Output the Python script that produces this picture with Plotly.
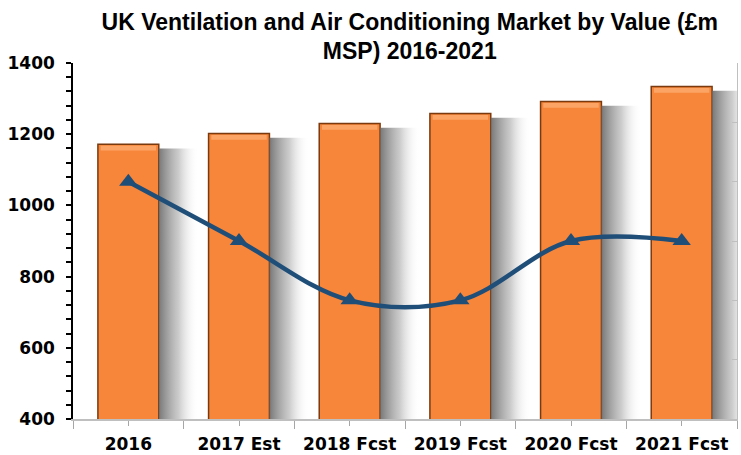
import plotly.graph_objects as go

categories = ["2016", "2017 Est", "2018 Fcst", "2019 Fcst", "2020 Fcst", "2021 Fcst"]
market_value = [1172, 1202, 1230, 1258, 1292, 1334]   # £m MSP (left axis)
line_values = [4, 3, 2, 2, 3, 3]                      # secondary series (right axis, unlabelled)
y_ticks = [400, 600, 800, 1000, 1200, 1400]

xpos = list(range(len(categories)))
BAR_W = 0.55
SH_W = 0.36
BEVEL = 22  # bevel band height in axis units (styling)

fig = go.Figure()

# soft shadows to the right of each bar
for i, v in zip(xpos, market_value):
    x0 = i + BAR_W / 2
    x1 = x0 + SH_W
    fig.add_trace(go.Scatter(
        x=[x0, x1, x1, x0, x0], y=[400, 400, v - 12, v - 12, 400],
        mode="lines", line=dict(width=0), fill="toself",
        fillgradient=dict(type="horizontal",
                          colorscale=[[0, "rgba(105,105,105,0.9)"],
                                      [0.5, "rgba(170,170,170,0.6)"],
                                      [1, "rgba(255,255,255,0)"]]),
        hoverinfo="skip", showlegend=False))

fig.add_trace(go.Bar(
    x=xpos, y=market_value, width=BAR_W,
    marker=dict(color="#F7863A", line=dict(color="#7A3A10", width=1.5)),
    showlegend=False, hoverinfo="x+y"))

# light bevel band at the top of each bar
fig.add_trace(go.Bar(
    x=xpos, y=[BEVEL * 0.6] * len(xpos), base=[v - BEVEL * 0.8 for v in market_value],
    width=BAR_W - 0.05,
    marker=dict(color="#FBA466", line=dict(width=0)),
    showlegend=False, hoverinfo="skip"))

fig.add_trace(go.Scatter(
    x=xpos, y=line_values, yaxis="y2", mode="lines+markers",
    line=dict(color="#1F4E79", width=4.5, shape="spline", smoothing=1),
    marker=dict(symbol="triangle-up", size=16, color="#1F4E79"),
    showlegend=False))

fig.update_layout(
    width=741, height=455, barmode="overlay",
    margin=dict(l=73, r=4, t=63, b=36, autoexpand=False),
    paper_bgcolor="white", plot_bgcolor="white",
    font=dict(family="DejaVu Sans", size=17, color="black"),
    title=dict(
        text="<b>UK Ventilation and Air Conditioning Market by Value (£m<br>MSP) 2016-2021</b>",
        x=0.553, xref="container", xanchor="center",
        y=0.935, yref="container", yanchor="middle",
        font=dict(family="Liberation Sans", size=23, color="black")),
    xaxis=dict(
        range=[-0.5, 5.5], tickmode="array", tickvals=xpos,
        ticktext=[f"<b>{c}</b>" for c in categories],
        ticks="outside", ticklen=5, tickcolor="#A6A6A6", tickwidth=1,
        minor=dict(tickmode="linear", tick0=-0.5, dtick=1, ticks="outside",
                   ticklen=8, tickcolor="#A6A6A6"),
        showline=True, linecolor="#BFBFBF", linewidth=1.5, automargin=False,
        showgrid=False, zeroline=False, ticklabelstandoff=4),
    xaxis2=dict(
        range=[-0.5, 5.5], overlaying="x", anchor="y", side="bottom",
        tickmode="array", tickvals=xpos, showticklabels=False,
        ticks="inside", ticklen=4, tickcolor="#A6A6A6", automargin=False,
        showline=False, showgrid=False, zeroline=False),
    yaxis=dict(
        range=[400, 1400], tickmode="array", tickvals=y_ticks,
        ticktext=[f"<b>{t}</b>" for t in y_ticks],
        ticks="outside", ticklen=5, tickcolor="black", tickwidth=1.5,
        minor=dict(tickmode="linear", tick0=400, dtick=40, ticks="outside",
                   ticklen=5, tickcolor="black", tickwidth=1.5),
        showline=True, linecolor="black", linewidth=1.5, automargin=False,
        showgrid=False, zeroline=False, ticklabelstandoff=8),
    yaxis3=dict(
        range=[400, 1400], overlaying="y", anchor="x", side="left",
        tickmode="array", tickvals=y_ticks, showticklabels=False,
        ticks="inside", ticklen=5, tickcolor="black", tickwidth=1.5,
        minor=dict(tickmode="linear", tick0=400, dtick=40, ticks="inside",
                   ticklen=5, tickcolor="black", tickwidth=1.5),
        showline=False, showgrid=False, zeroline=False, automargin=False),
    yaxis2=dict(
        range=[0, 6], overlaying="y", side="right", anchor="x",
        tickmode="linear", tick0=0, dtick=1, showticklabels=False,
        ticks="inside", ticklen=5, tickcolor="#BFBFBF", automargin=False,
        showline=True, linecolor="#BFBFBF", linewidth=1,
        showgrid=False, zeroline=False),
)

fig.write_html(
    "out.html",
    config={"displayModeBar": False},
    post_script="document.body.style.margin='0px';document.body.style.overflow='hidden';")
